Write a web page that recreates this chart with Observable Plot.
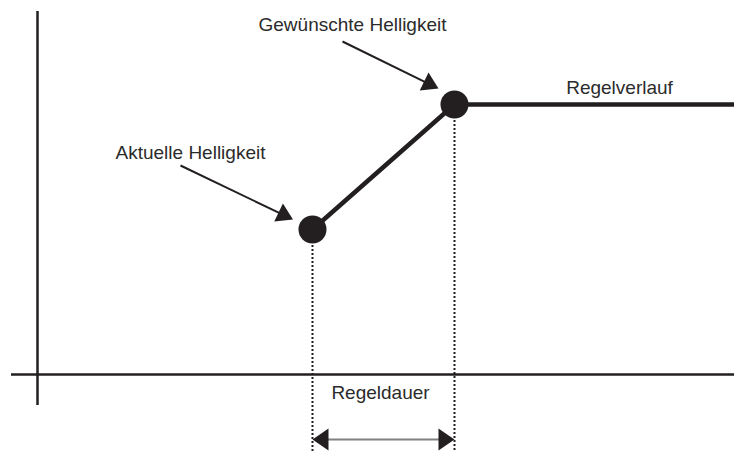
<!DOCTYPE html>
<html>
<head>
<meta charset="utf-8">
<script src="https://cdn.jsdelivr.net/npm/d3@7"></script>
<script src="https://cdn.jsdelivr.net/npm/@observablehq/plot@0.6"></script>
<style>
  html, body { margin: 0; padding: 0; background: #fff; }
  #chart svg { display: block; }
</style>
</head>
<body>
<div id="chart"></div>
<script>
// --- data (abstract units: time t, brightness b) ---
const courseT = [275, 417, 697];          // Regelverlauf: time values
const courseB = [145, 270, 270];          // Regelverlauf: brightness values
const pointNames = ["Aktuelle Helligkeit", "Gewünschte Helligkeit"];
const pointT = [275, 417];                // start / end of Regeldauer
const pointB = [145, 270];                // actual / desired brightness
const axisTimeExtent = [-26, 697];        // horizontal axis extent
const axisBrightExtent = [-31, 363];      // vertical axis extent
const guideBottom = -78;                  // dotted guide lines end
const durationB = -65;                    // level of Regeldauer double arrow
const labelTexts = ["Gewünschte Helligkeit", "Aktuelle Helligkeit", "Regelverlauf", "Regeldauer"];
const labelT = [315, 153, 582, 343];
const labelB = [350, 222, 287, -18];
const calloutFromT = [305, 143];          // callout arrows start (time)
const calloutFromB = [333, 209];          // callout arrows start (brightness)
const calloutToT = [401, 255.5];          // callout arrows tip (time)
const calloutToB = [286, 155];            // callout arrows tip (brightness)

const ink = "#231f20";
const font = "'Liberation Sans', Arial, Helvetica, sans-serif";

const course = courseT.map((t, i) => ({t, b: courseB[i]}));
const points = pointT.map((t, i) => ({name: pointNames[i], t, b: pointB[i]}));
const labels = labelTexts.map((text, i) => ({text, t: labelT[i], b: labelB[i]}));
const headLen = 16;
const callouts = calloutFromT.map((t1, i) => {
  const t2 = calloutToT[i], b2 = calloutToB[i], b1 = calloutFromB[i];
  const dt = t2 - t1, db = b2 - b1, len = Math.hypot(dt, db);
  return {
    t1, b1, t2, b2,
    te: t2 - dt / len * (headLen - 3), be: b2 - db / len * (headLen - 3),
    rotate: Math.atan2(dt, db) * 180 / Math.PI
  };
});
const durationHeads = [
  {t: pointT[0], b: durationB, rotate: 270},
  {t: pointT[1], b: durationB, rotate: 90}
];

const plot = Plot.plot({
  width: 734,
  height: 454,
  margin: 0,
  x: {domain: [-37, 697], range: [0, 734], axis: null},
  y: {domain: [-80, 374], range: [454, 0], axis: null},
  style: {fontFamily: font, background: "#fff"},
  marks: [
    // axes
    Plot.ruleX([0], {y1: axisBrightExtent[0], y2: axisBrightExtent[1], stroke: ink, strokeWidth: 2.5}),
    Plot.ruleY([0], {x1: axisTimeExtent[0], x2: axisTimeExtent[1], stroke: ink, strokeWidth: 2.5}),
    // dotted guides
    Plot.ruleX(points, {x: "t", y1: "b", y2: guideBottom, stroke: ink, strokeWidth: 2, strokeDasharray: "2,2"}),
    // control course
    Plot.line(course, {x: "t", y: "b", stroke: ink, strokeWidth: 4.5}),
    Plot.dot(points, {x: "t", y: "b", r: 14, fill: ink, stroke: "none"}),
    // callout arrows
    Plot.link(callouts, {x1: "t1", y1: "b1", x2: "te", y2: "be", stroke: ink, strokeWidth: 2}),
    Plot.vector(callouts, {x: "t2", y: "b2", rotate: "rotate", length: headLen, r: 10, shape: "spike", anchor: "end", fill: ink, stroke: "none"}),
    // duration double arrow
    Plot.ruleY([durationB], {x1: pointT[0] + 10, x2: pointT[1] - 10, stroke: "#808080", strokeWidth: 2}),
    Plot.vector(durationHeads, {x: "t", y: "b", rotate: "rotate", length: headLen, r: 11, shape: "spike", anchor: "end", fill: ink, stroke: "none"}),
    // labels
    Plot.text(labels, {x: "t", y: "b", text: "text", fontSize: 19, fill: "#2b2b2b", textAnchor: "middle", lineAnchor: "middle"})
  ]
});
document.getElementById("chart").appendChild(plot);
</script>
</body>
</html>
